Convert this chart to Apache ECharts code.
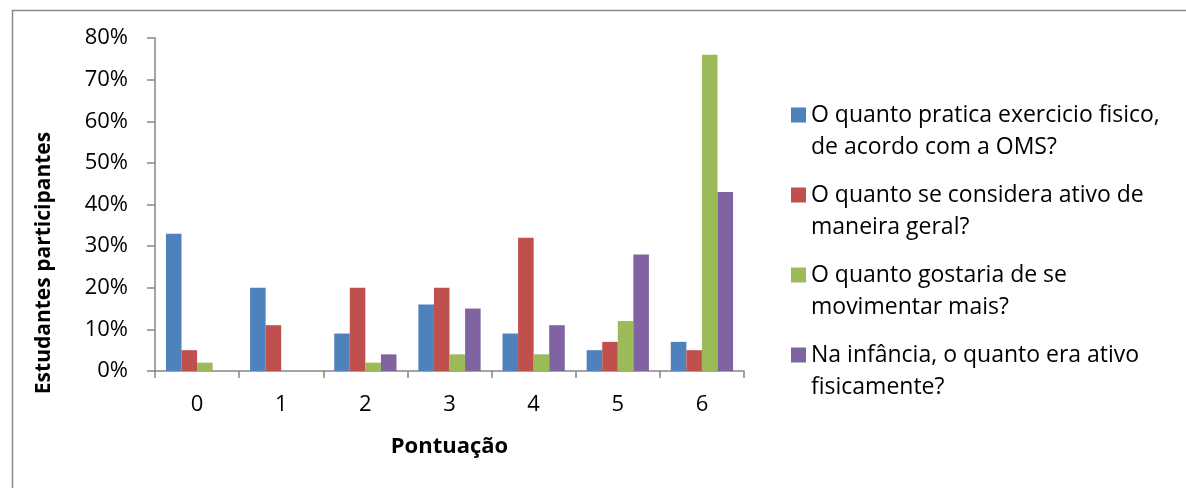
<!DOCTYPE html>
<html>
<head>
<meta charset="utf-8">
<script src="https://cdn.jsdelivr.net/npm/echarts@6/dist/echarts.min.js"></script>
<style>
html,body{margin:0;padding:0;background:#fff;}
#chart{width:1186px;height:488px;}
</style>
</head>
<body>
<div id="chart"></div>
<script>
const categories = ['0', '1', '2', '3', '4', '5', '6'];
const seriesNames = [
  'O quanto pratica exercicio fisico, de acordo com a OMS?',
  'O quanto se considera ativo de maneira geral?',
  'O quanto gostaria de se movimentar mais?',
  'Na infância, o quanto era ativo fisicamente?'
];
const legendLines = [
  ['O quanto pratica exercicio fisico,', 'de acordo com a OMS?'],
  ['O quanto se considera ativo de', 'maneira geral?'],
  ['O quanto gostaria de se', 'movimentar mais?'],
  ['Na infância, o quanto era ativo', 'fisicamente?']
];
const praticaOMS = [33, 20, 9, 16, 9, 5, 7];
const ativoGeral = [5, 11, 20, 20, 32, 7, 5];
const gostariaMais = [2, 0, 2, 4, 4, 12, 76];
const ativoInfancia = [0, 0, 4, 15, 11, 28, 43];
const yTicks = [0, 10, 20, 30, 40, 50, 60, 70, 80];
const colors = ['#4F81BD', '#C0504D', '#9BBB59', '#8064A2'];

const FONT = '"Open Sans", Lato, sans-serif';
const allData = [praticaOMS, ativoGeral, gostariaMais, ativoInfancia];

const chart = echarts.init(document.getElementById('chart'));
chart.setOption({
  animation: false,
  textStyle: { fontFamily: FONT },
  grid: { left: 155, right: 442, top: 38, bottom: 117, containLabel: false },
  graphic: [
    { type: 'rect', left: 10, top: 8, shape: { x: 0, y: 0, width: 1200, height: 520 },
      style: { fill: 'none', stroke: '#8a8a8a', lineWidth: 1.5 }, silent: true, z: -1 },
    { type: 'text', x: 44, y: 263, rotation: Math.PI / 2,
      style: { text: 'Estudantes participantes', fontFamily: FONT, fontWeight: 'bold',
               fontSize: 21, fill: '#000', align: 'center', verticalAlign: 'middle' } }
  ],
  legend: {
    orient: 'vertical',
    left: 786,
    top: 62,
    itemGap: -16,
    itemWidth: 15,
    itemHeight: 15,
    icon: 'rect',
    data: seriesNames,
    formatter: function (name) {
      const i = seriesNames.indexOf(name);
      return '\n' + legendLines[i].join('\n');
    },
    textStyle: { fontFamily: FONT, fontSize: 23, color: '#000', lineHeight: 32 }
  },
  xAxis: {
    type: 'category',
    data: categories,
    name: 'Pontuação',
    nameLocation: 'middle',
    nameGap: 65,
    nameTextStyle: { fontFamily: FONT, fontWeight: 'bold', fontSize: 22, color: '#000' },
    axisLine: { lineStyle: { color: '#868686', width: 1.5 } },
    axisTick: { show: true, length: 7, lineStyle: { color: '#868686', width: 1.5 } },
    axisLabel: { fontFamily: FONT, fontSize: 22, color: '#000', margin: 23 }
  },
  yAxis: {
    type: 'value',
    min: 0,
    max: 80,
    interval: 10,
    axisLine: { show: true, lineStyle: { color: '#868686', width: 1.5 } },
    axisTick: { show: true, length: 8, lineStyle: { color: '#868686', width: 1.5 } },
    splitLine: { show: false },
    axisLabel: {
      fontFamily: FONT, fontSize: 22, color: '#000', margin: 27,
      formatter: function (v) { return yTicks.indexOf(v) >= 0 ? v + '%' : ''; }
    }
  },
  series: seriesNames.map(function (name, i) {
    return {
      name: name,
      type: 'bar',
      data: allData[i],
      barGap: '0%',
      barCategoryGap: '26%',
      itemStyle: { color: colors[i] }
    };
  })
});
</script>
</body>
</html>
